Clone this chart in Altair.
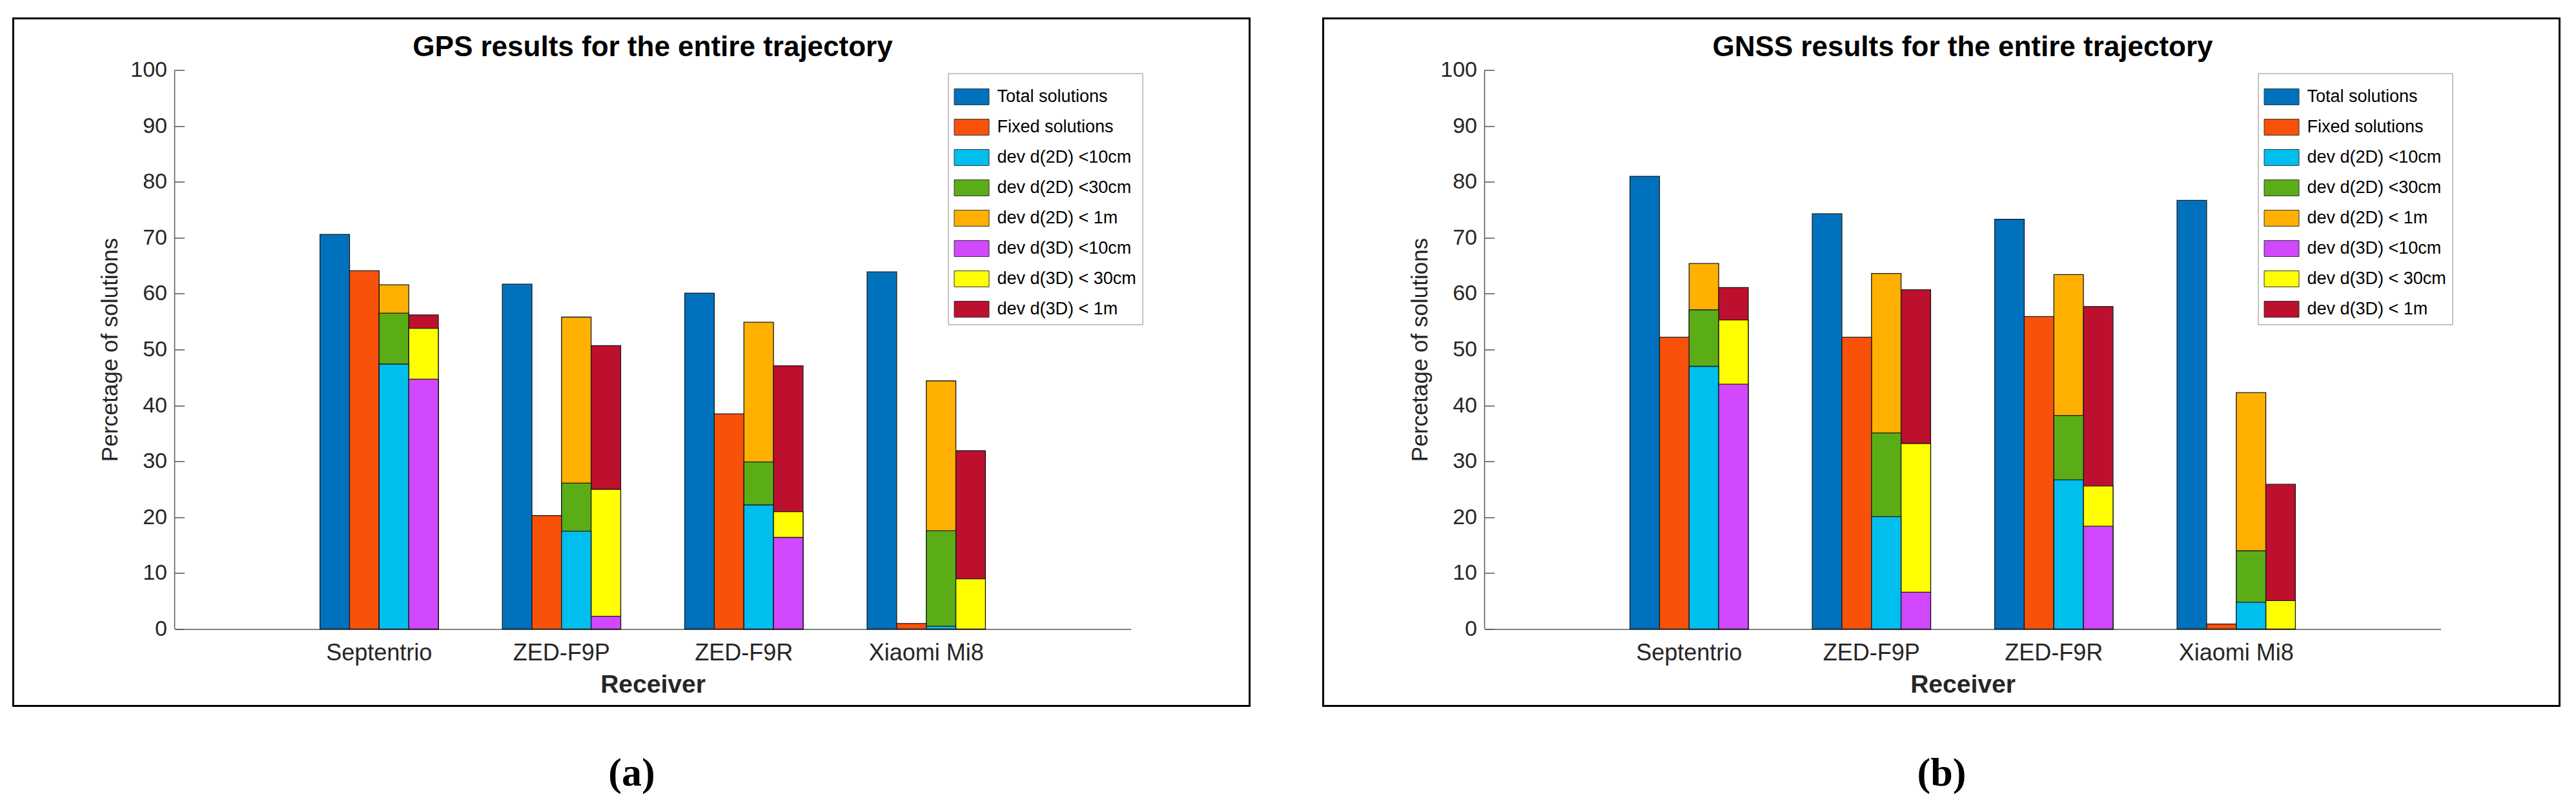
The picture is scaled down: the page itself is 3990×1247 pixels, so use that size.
import altair as alt
import pandas as pd

receivers = ["Septentrio", "ZED-F9P", "ZED-F9R", "Xiaomi Mi8"]
series = [
    "Total solutions",
    "Fixed solutions",
    "dev d(2D) <10cm",
    "dev d(2D) <30cm",
    "dev d(2D) < 1m",
    "dev d(3D) <10cm",
    "dev d(3D) < 30cm",
    "dev d(3D) < 1m",
]
slots = ["Total", "Fixed", "2D", "2D", "2D", "3D", "3D", "3D"]
slot_order = ["Total", "Fixed", "2D", "3D"]
colors = ["#0072BD", "#F7510A", "#00BEEE", "#5BAD18", "#FFB000", "#D148FF", "#FFFF00", "#BD0F2E"]
y_ticks = [0, 10, 20, 30, 40, 50, 60, 70, 80, 90, 100]

# (a) GPS
gps_total = [70.6, 61.7, 60.1, 63.9]
gps_fixed = [64.1, 20.3, 38.5, 1.0]
gps_2d_10 = [47.4, 17.5, 22.2, 0.5]
gps_2d_30 = [56.5, 26.1, 29.9, 17.6]
gps_2d_1m = [61.6, 55.8, 54.9, 44.4]
gps_3d_10 = [44.7, 2.3, 16.4, 0.0]
gps_3d_30 = [53.8, 25.0, 21.0, 9.0]
gps_3d_1m = [56.2, 50.7, 47.1, 31.9]

# (b) GNSS
gnss_total = [81.0, 74.3, 73.3, 76.7]
gnss_fixed = [52.2, 52.2, 55.9, 0.9]
gnss_2d_10 = [47.0, 20.1, 26.7, 4.8]
gnss_2d_30 = [57.1, 35.1, 38.2, 14.0]
gnss_2d_1m = [65.4, 63.6, 63.4, 42.3]
gnss_3d_10 = [43.8, 6.6, 18.4, 0.0]
gnss_3d_30 = [55.3, 33.2, 25.6, 5.1]
gnss_3d_1m = [61.1, 60.7, 57.7, 25.9]

SANS = "Liberation Sans, Arial, Helvetica, sans-serif"
TXT = "#262626"
W, H = 1481, 866

# legend swatch: wide flat rectangle
swatch = "M-1,-0.46L1,-0.46L1,0.46L-1,0.46Z"


def panel(values, title, caption):
    rows = []
    for name, slot, vals in zip(series, slots, values):
        for rec, v in zip(receivers, vals):
            rows.append({"receiver": rec, "slot": slot, "series": name, "value": v})
    df = pd.DataFrame(rows)
    one = pd.DataFrame({"caption": [caption], "title": [title]})

    bars = (
        alt.Chart(df)
        .transform_filter("datum.value > 0")
        .mark_bar(stroke="#1a1a1a", strokeWidth=1.3)
        .encode(
            x=alt.X(
                "receiver:N",
                sort=receivers,
                scale=alt.Scale(paddingInner=0.351, paddingOuter=0.797),
                axis=alt.Axis(
                    title="Receiver",
                    labelAngle=0,
                    ticks=False,
                    tickSize=0,
                    labelPadding=20,
                    labelFontSize=36,
                    labelFont=SANS,
                    labelColor=TXT,
                    domainColor="#555555",
                    domainWidth=1.5,
                    titleFont=SANS,
                    titleFontSize=39,
                    titleFontWeight="bold",
                    titleColor=TXT,
                    titlePadding=12,
                ),
            ),
            xOffset=alt.XOffset(
                "slot:N", sort=slot_order, scale=alt.Scale(paddingInner=0, paddingOuter=0)
            ),
            y=alt.Y(
                "value:Q",
                stack=None,
                scale=alt.Scale(domain=[0, 100], nice=False),
                axis=alt.Axis(
                    values=y_ticks,
                    offset=-15,
                    tickSize=15,
                    tickWidth=1.5,
                    tickColor="#555555",
                    domain=False,
                    grid=False,
                    labelPadding=12,
                    labelFontSize=34,
                    labelFont=SANS,
                    labelColor=TXT,
                    title="Percetage of solutions",
                    titleFont=SANS,
                    titleFontSize=35,
                    titleFontWeight="normal",
                    titleColor=TXT,
                    titlePadding=13,
                ),
            ),
            color=alt.Color(
                "series:N",
                sort=series,
                scale=alt.Scale(domain=series, range=colors),
                legend=alt.Legend(
                    title=None,
                    orient="none",
                    legendX=1198,
                    legendY=5,
                    symbolType=swatch,
                    symbolSize=2916,
                    symbolStrokeColor="#333333",
                    symbolStrokeWidth=1,
                    symbolOpacity=1,
                    labelFont=SANS,
                    labelFontSize=27,
                    labelColor="black",
                    labelOffset=12,
                    labelLimit=400,
                    fillColor="white",
                    strokeColor="#888888",
                    padding=9,
                    rowPadding=5,
                ),
            ),
            order=alt.Order("value:Q", sort="descending"),
        )
    )

    yline = (
        alt.Chart(one)
        .mark_rule(color="#555555", strokeWidth=1.5)
        .encode(x=alt.value(0), y=alt.value(0), y2=alt.value(H))
    )

    frame = (
        alt.Chart(one)
        .mark_rect(filled=False, stroke="black", strokeWidth=3)
        .encode(x=alt.value(-250), x2=alt.value(1665), y=alt.value(-80), y2=alt.value(985))
    )

    head = (
        alt.Chart(one)
        .mark_text(
            font=SANS,
            fontWeight="bold",
            fontSize=44,
            align="center",
            baseline="alphabetic",
            color="black",
        )
        .encode(x=alt.value(W / 2), y=alt.value(-22), text="title:N")
    )

    cap = (
        alt.Chart(one)
        .mark_text(
            font="Liberation Serif, Times New Roman, serif",
            fontWeight="bold",
            fontSize=62,
            align="center",
            baseline="middle",
            color="black",
        )
        .encode(x=alt.value(708), y=alt.value(1089), text="caption:N")
    )

    return alt.layer(frame, bars, yline, head, cap).properties(width=W, height=H)


gps_values = [gps_total, gps_fixed, gps_2d_10, gps_2d_30, gps_2d_1m, gps_3d_10, gps_3d_30, gps_3d_1m]
gnss_values = [gnss_total, gnss_fixed, gnss_2d_10, gnss_2d_30, gnss_2d_1m, gnss_3d_10, gnss_3d_30, gnss_3d_1m]

chart = (
    alt.hconcat(
        panel(gps_values, "GPS results for the entire trajectory", "(a)"),
        panel(gnss_values, "GNSS results for the entire trajectory", "(b)"),
        spacing=110,
    )
    .resolve_legend(color="independent")
    .configure_view(stroke=None)
    .properties(padding={"left": 10.5, "top": 18.5, "right": 5, "bottom": 5}, background="white")
)

chart.save("out.html", embed_options={"renderer": "svg", "actions": False})
